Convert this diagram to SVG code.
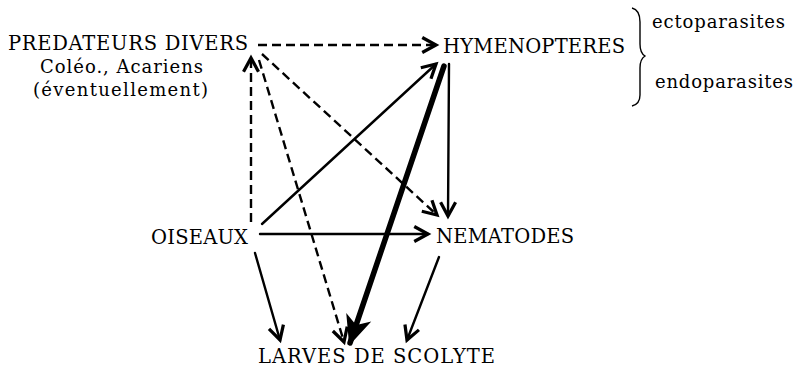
<svg xmlns="http://www.w3.org/2000/svg" width="799" height="377" viewBox="0 0 799 377">
<style>
text{font-family:"DejaVu Serif","Liberation Serif",serif;fill:#000;}
.cap{font-size:19.5px;}
.sm{font-size:18px;}
.ln{stroke:#000;stroke-width:2.4;fill:none;stroke-linecap:round;}
.d{stroke-dasharray:9 5;stroke-linecap:butt;}
.thick{stroke-width:5.5;}
</style>
<defs>
<marker id="ah" markerUnits="userSpaceOnUse" markerWidth="20" markerHeight="20" refX="0" refY="0" viewBox="-12 -8 14 16" orient="auto" overflow="visible">
<path d="M-11,-6 L0,0 L-11,6" fill="none" stroke="#000" stroke-width="2.6" stroke-linejoin="miter"/>
</marker>
<marker id="ahb" markerUnits="userSpaceOnUse" markerWidth="30" markerHeight="30" refX="0" refY="0" viewBox="-20 -10 22 20" orient="auto" overflow="visible">
<path d="M-18,-8 L0,0 L-18,8 L-13,0 Z" fill="#000" stroke="#000" stroke-width="1.5" stroke-linejoin="miter"/>
</marker>
</defs>
<g id="connectors">
<line class="ln d" x1="258" y1="45" x2="436" y2="45" marker-end="url(#ah)"/>
<line class="ln d" x1="251" y1="222" x2="251" y2="58" marker-end="url(#ah)"/>
<line class="ln d" x1="262" y1="54" x2="437" y2="215" marker-end="url(#ah)"/>
<line class="ln d" x1="259" y1="60" x2="344" y2="342" marker-end="url(#ah)"/>
<line class="ln" x1="262" y1="224" x2="436" y2="64" marker-end="url(#ah)"/>
<line class="ln thick" x1="444" y1="66" x2="350" y2="343" marker-end="url(#ahb)"/>
<line class="ln" x1="449" y1="64" x2="448" y2="216" marker-end="url(#ah)"/>
<line class="ln" x1="260" y1="234" x2="428" y2="234" marker-end="url(#ah)"/>
<line class="ln" x1="255" y1="253" x2="280" y2="340" marker-end="url(#ah)"/>
<line class="ln" x1="439" y1="257" x2="407" y2="340" marker-end="url(#ah)"/>
</g>
<g id="predateurs">
<text class="cap" x="8" y="50" textLength="240" lengthAdjust="spacing">PREDATEURS DIVERS</text>
<text class="sm" x="40" y="73" textLength="163" lengthAdjust="spacing">Coléo.,  Acariens</text>
<text class="sm" x="33" y="96" textLength="175" lengthAdjust="spacing">(éventuellement)</text>
</g>
<g id="hymenopteres">
<text class="cap" x="443" y="53" textLength="182" lengthAdjust="spacing">HYMENOPTERES</text>
<path d="M632,8 Q640,10 640,22 L640,44 Q640,53 645,56 Q640,59 640,68 L640,95 Q640,104 632,106" fill="none" stroke="#000" stroke-width="1.4"/>
<text class="sm" x="652" y="28" textLength="133" lengthAdjust="spacing">ectoparasites</text>
<text class="sm" x="655" y="88" textLength="138" lengthAdjust="spacing">endoparasites</text>
</g>
<g id="oiseaux">
<text class="cap" x="151" y="244" textLength="97" lengthAdjust="spacing">OISEAUX</text>
</g>
<g id="nematodes">
<text class="cap" x="436" y="243" textLength="138" lengthAdjust="spacing">NEMATODES</text>
</g>
<g id="larves">
<text class="cap" x="258" y="363" textLength="237" lengthAdjust="spacing">LARVES DE SCOLYTE</text>
</g>
</svg>
